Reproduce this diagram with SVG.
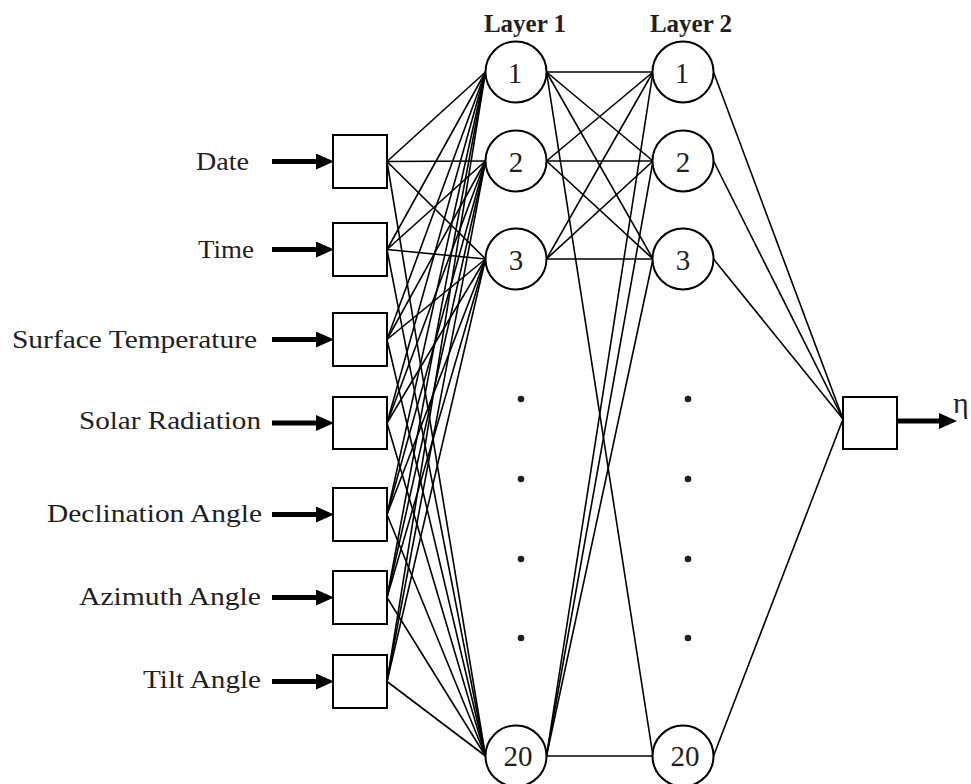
<svg xmlns="http://www.w3.org/2000/svg" width="971" height="784" viewBox="0 0 971 784">
<defs>
<marker id="ah" markerUnits="userSpaceOnUse" markerWidth="18" markerHeight="16" refX="0" refY="8" orient="auto"><path d="M0,0 L18,8 L0,16 z" fill="#000"/></marker>
<style>
.lbl{font-family:"Liberation Serif","Times New Roman",serif;font-size:25px;fill:#231f20}
.num{font-family:"Liberation Serif","Times New Roman",serif;font-size:29px;fill:#231f20;text-anchor:middle}
.hdr{font-family:"Liberation Serif","Times New Roman",serif;font-size:25px;font-weight:bold;fill:#231f20;text-anchor:middle}
.box{fill:#fff;stroke:#000;stroke-width:2}
.node{fill:#fff;stroke:#000;stroke-width:2}
.c{stroke:#000;stroke-width:1.6;fill:none}
.arr{stroke:#000;stroke-width:5;fill:none;marker-end:url(#ah)}
.dot{fill:#231f20}
</style>
</defs>
<rect width="971" height="784" fill="#fff"/>
<g id="connectors">
<!-- inputs to layer 1 -->
<g class="c">
<line x1="387" y1="161.5" x2="485.5" y2="72"/><line x1="387" y1="161.5" x2="485.5" y2="161"/><line x1="387" y1="161.5" x2="485.5" y2="259"/><line x1="387" y1="161.5" x2="485.5" y2="756"/>
<line x1="387" y1="249.5" x2="485.5" y2="72"/><line x1="387" y1="249.5" x2="485.5" y2="161"/><line x1="387" y1="249.5" x2="485.5" y2="259"/><line x1="387" y1="249.5" x2="485.5" y2="756"/>
<line x1="387" y1="339.5" x2="485.5" y2="72"/><line x1="387" y1="339.5" x2="485.5" y2="161"/><line x1="387" y1="339.5" x2="485.5" y2="259"/><line x1="387" y1="339.5" x2="485.5" y2="756"/>
<line x1="387" y1="423" x2="485.5" y2="72"/><line x1="387" y1="423" x2="485.5" y2="161"/><line x1="387" y1="423" x2="485.5" y2="259"/><line x1="387" y1="423" x2="485.5" y2="756"/>
<line x1="387" y1="514.5" x2="485.5" y2="72"/><line x1="387" y1="514.5" x2="485.5" y2="161"/><line x1="387" y1="514.5" x2="485.5" y2="259"/><line x1="387" y1="514.5" x2="485.5" y2="756"/>
<line x1="387" y1="597.5" x2="485.5" y2="72"/><line x1="387" y1="597.5" x2="485.5" y2="161"/><line x1="387" y1="597.5" x2="485.5" y2="259"/><line x1="387" y1="597.5" x2="485.5" y2="756"/>
<line x1="387" y1="681.5" x2="485.5" y2="72"/><line x1="387" y1="681.5" x2="485.5" y2="161"/><line x1="387" y1="681.5" x2="485.5" y2="259"/><line x1="387" y1="681.5" x2="485.5" y2="756"/>
<!-- layer 1 to layer 2 -->
<line x1="546.5" y1="72" x2="653" y2="72"/><line x1="546.5" y1="72" x2="653" y2="161"/><line x1="546.5" y1="72" x2="653" y2="259"/><line x1="546.5" y1="72" x2="653" y2="756"/>
<line x1="546.5" y1="161" x2="653" y2="72"/><line x1="546.5" y1="161" x2="653" y2="161"/><line x1="546.5" y1="161" x2="653" y2="259"/>
<line x1="546.5" y1="259" x2="653" y2="72"/><line x1="546.5" y1="259" x2="653" y2="161"/><line x1="546.5" y1="259" x2="653" y2="259"/>
<line x1="546.5" y1="756" x2="653" y2="72"/><line x1="546.5" y1="756" x2="653" y2="161"/><line x1="546.5" y1="756" x2="653" y2="259"/><line x1="546.5" y1="756" x2="653" y2="756"/>
<!-- layer 2 to output -->
<line x1="713.5" y1="72" x2="843" y2="419"/><line x1="713.5" y1="161" x2="843" y2="419"/><line x1="713.5" y1="259" x2="843" y2="419"/><line x1="713.5" y1="756" x2="843" y2="419"/>
</g>
<!-- input arrows -->
<line class="arr" x1="272" y1="161.5" x2="316" y2="161.5"/>
<line class="arr" x1="272" y1="249.5" x2="316" y2="249.5"/>
<line class="arr" x1="272" y1="339.5" x2="316" y2="339.5"/>
<line class="arr" x1="272" y1="423" x2="316" y2="423"/>
<line class="arr" x1="272" y1="514.5" x2="316" y2="514.5"/>
<line class="arr" x1="272" y1="597.5" x2="316" y2="597.5"/>
<line class="arr" x1="272" y1="681.5" x2="316" y2="681.5"/>
<!-- output arrow -->
<line class="arr" x1="897" y1="421" x2="939" y2="421"/>
</g>
<g id="in-date"><text class="lbl" x="196" y="170" textLength="53" lengthAdjust="spacingAndGlyphs">Date</text><rect class="box" x="333" y="135" width="54" height="53"/></g>
<g id="in-time"><text class="lbl" x="198" y="258" textLength="56" lengthAdjust="spacingAndGlyphs">Time</text><rect class="box" x="333" y="223" width="54" height="53"/></g>
<g id="in-surface"><text class="lbl" x="12" y="348" textLength="245" lengthAdjust="spacingAndGlyphs">Surface Temperature</text><rect class="box" x="333" y="313" width="54" height="53"/></g>
<g id="in-solar"><text class="lbl" x="79" y="429" textLength="182" lengthAdjust="spacingAndGlyphs">Solar Radiation</text><rect class="box" x="333" y="397" width="54" height="52"/></g>
<g id="in-declination"><text class="lbl" x="47" y="522" textLength="215" lengthAdjust="spacingAndGlyphs">Declination Angle</text><rect class="box" x="333" y="488" width="54" height="53"/></g>
<g id="in-azimuth"><text class="lbl" x="79" y="605" textLength="182" lengthAdjust="spacingAndGlyphs">Azimuth Angle</text><rect class="box" x="333" y="571" width="54" height="53"/></g>
<g id="in-tilt"><text class="lbl" x="143" y="688" textLength="118" lengthAdjust="spacingAndGlyphs">Tilt Angle</text><rect class="box" x="333" y="655" width="54" height="53"/></g>
<text class="hdr" x="525" y="32">Layer 1</text>
<text class="hdr" x="691" y="32">Layer 2</text>
<g id="l1-1"><circle class="node" cx="516" cy="72" r="30.5"/><text class="num" x="515" y="83">1</text></g>
<g id="l1-2"><circle class="node" cx="516" cy="161" r="30.5"/><text class="num" x="516" y="172">2</text></g>
<g id="l1-3"><circle class="node" cx="516" cy="259" r="30.5"/><text class="num" x="516" y="270">3</text></g>
<g id="l1-20"><circle class="node" cx="516" cy="756" r="30.5"/><text class="num" x="518" y="766">20</text></g>
<g id="l2-1"><circle class="node" cx="683" cy="72" r="30.5"/><text class="num" x="682" y="83">1</text></g>
<g id="l2-2"><circle class="node" cx="683" cy="161" r="30.5"/><text class="num" x="683" y="172">2</text></g>
<g id="l2-3"><circle class="node" cx="683" cy="259" r="30.5"/><text class="num" x="683" y="270">3</text></g>
<g id="l2-20"><circle class="node" cx="683" cy="756" r="30.5"/><text class="num" x="685" y="766">20</text></g>
<g id="dots">
<circle class="dot" cx="521" cy="399" r="3.3"/><circle class="dot" cx="521" cy="479" r="3.3"/><circle class="dot" cx="521" cy="559" r="3.3"/><circle class="dot" cx="521" cy="638" r="3.3"/>
<circle class="dot" cx="688" cy="399" r="3.3"/><circle class="dot" cx="688" cy="479" r="3.3"/><circle class="dot" cx="688" cy="559" r="3.3"/><circle class="dot" cx="688" cy="638" r="3.3"/>
</g>
<g id="output"><rect class="box" x="843" y="397" width="54" height="52"/><text class="lbl" x="953" y="413" style="font-size:30px">η</text></g>
</svg>
